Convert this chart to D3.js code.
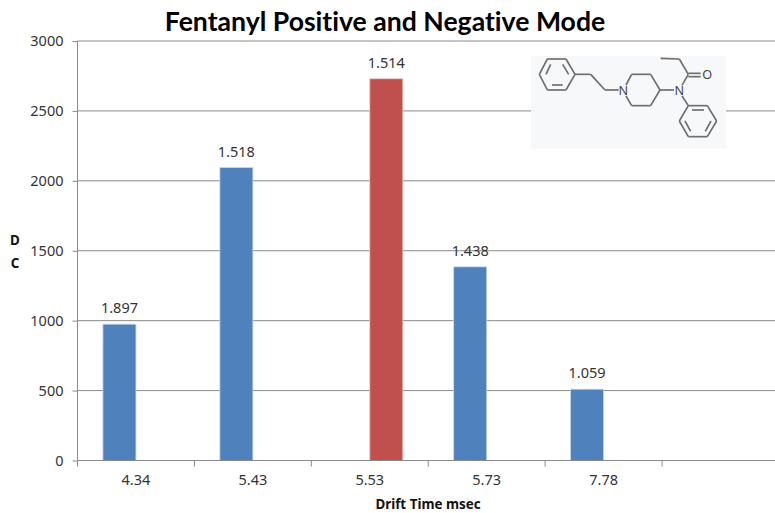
<!DOCTYPE html>
<html>
<head>
<meta charset="utf-8">
<script src="https://cdn.jsdelivr.net/npm/d3@7"></script>
<style>
  html, body { margin: 0; padding: 0; background: #fff; }
  text { font-family: "Noto Sans", sans-serif; fill: #333; }
  .title { font-family: Lato, sans-serif; font-weight: 700; font-size: 26.6px; fill: #000; font-variant-ligatures: none; }
  .axis-title { font-family: "Noto Sans", sans-serif; font-weight: 700; font-size: 13.4px; fill: #111; }
</style>
</head>
<body>
<div id="chart"></div>
<script>
const categories = ['4.34', '5.43', '5.53', '5.73', '7.78', ''];
const seriesNames = ['blue', 'red'];
const barCategories = ['4.34', '5.43', '5.53', '5.73', '7.78'];
const barSeries = ['blue', 'blue', 'red', 'blue', 'blue'];
const barValues = [975, 2095, 2730, 1385, 510];
const barLabels = ['1.897', '1.518', '1.514', '1.438', '1.059'];
const yTicks = [0, 500, 1000, 1500, 2000, 2500, 3000];

const width = 775, height = 513;
const margin = { left: 77.5, top: 41, right: -4, bottom: 52.5 };
const colors = { blue: '#4f81bd', red: '#c0504d' };

const svg = d3.select('#chart').append('svg')
    .attr('width', width)
    .attr('height', height)
    .style('display', 'block');

const x = d3.scaleBand().domain(categories).range([margin.left, width - margin.right]);
const inner = d3.scaleBand().domain(seriesNames).range([0, x.bandwidth()]).paddingOuter(0.77).paddingInner(0);
const y = d3.scaleLinear().domain([0, 3000]).range([height - margin.bottom, margin.top]);

// grid
svg.append('g')
    .selectAll('line').data(yTicks.filter(d => d > 0))
    .enter()
    .append('line')
    .attr('x1', margin.left)
    .attr('x2', width)
    .attr('y1', d => y(d))
    .attr('y2', d => y(d))
    .attr('stroke', '#8a8a8a')
    .attr('stroke-width', 1);

// bars
svg.append('g')
    .selectAll('rect').data(barValues)
    .enter()
    .append('rect')
    .attr('x', (d, i) => x(barCategories[i]) + inner(barSeries[i]))
    .attr('y', d => y(d))
    .attr('width', inner.bandwidth())
    .attr('height', d => y(0) - y(d))
    .attr('fill', (d, i) => colors[barSeries[i]])
    .attr('stroke', (d, i) => barSeries[i] === 'blue' ? '#c9d8ea' : '#ecc9c8')
    .attr('stroke-width', 0.8);

// data labels
svg.append('g')
    .selectAll('text').data(barValues)
    .enter()
    .append('text')
    .attr('x', (d, i) => x(barCategories[i]) + inner(barSeries[i]) + inner.bandwidth() / 2)
    .attr('y', d => y(d) - 11)
    .attr('text-anchor', 'middle')
    .style('font-size', '14.5px')
    .text((d, i) => barLabels[i]);

// axes
const yAxis = svg.append('g')
    .attr('transform', `translate(${margin.left},0)`)
    .call(d3.axisLeft(y).tickValues(yTicks).tickFormat(d3.format('d')).tickSize(5).tickPadding(9).tickSizeOuter(0));
const xAxis = svg.append('g')
    .attr('transform', `translate(0,${y(0)})`)
    .call(d3.axisBottom(x).tickSize(0).tickPadding(14));
xAxis.selectAll('.tick line').remove();
xAxis.append('g')
    .selectAll('line').data(categories)
    .enter()
    .append('line')
    .attr('x1', d => x(d))
    .attr('x2', d => x(d))
    .attr('y1', 0)
    .attr('y2', 6)
    .attr('stroke', '#8a8a8a');
[yAxis, xAxis].forEach(a => {
    a.selectAll('.domain').attr('stroke', '#8a8a8a');
    a.selectAll('.tick line').attr('stroke', '#8a8a8a');
    a.selectAll('text').style('font-family', '"Noto Sans", sans-serif').style('font-size', '14.5px').attr('fill', '#333');
});
yAxis.select('.domain').attr('d', `M0,${y(3000)}V${y(0)}`);
xAxis.select('.domain').attr('d', `M${margin.left},0H${width}`);

// titles
svg.append('text').attr('class', 'title').attr('x', 385).attr('y', 31).attr('text-anchor', 'middle')
    .text('Fentanyl Positive and Negative Mode');
svg.append('text').attr('class', 'axis-title').attr('x', 428).attr('y', 509).attr('text-anchor', 'middle')
    .text('Drift Time msec');
svg.append('text').attr('class', 'axis-title').attr('x', 15).attr('y', 245).attr('text-anchor', 'middle').text('D');
svg.append('text').attr('class', 'axis-title').attr('x', 15).attr('y', 268).attr('text-anchor', 'middle').text('C');

// fentanyl structure inset
const mol = svg.append('g').attr('transform', 'translate(520,40) scale(0.3333)');
mol.append('rect').attr('x', 33).attr('y', 48).attr('width', 585).attr('height', 278).attr('fill', '#f7f8fa');
const bonds = [
    [[58, 103], [82, 57]], [[82, 57], [138, 57]], [[138, 57], [165, 103]],
    [[165, 103], [138, 150]], [[138, 150], [82, 150]], [[82, 150], [58, 103]],
    [[78, 103], [92, 73]], [[96, 135], [128, 135]], [[128, 73], [146, 103]],
    [[165, 103], [212, 103]], [[212, 103], [255, 150]], [[255, 150], [296, 150]],
    [[318, 135], [335, 103]], [[335, 103], [392, 103]], [[392, 103], [420, 150]],
    [[420, 150], [392, 197]], [[392, 197], [335, 197]], [[335, 197], [318, 168]],
    [[420, 150], [462, 150]], [[486, 136], [505, 103]], [[505, 103], [478, 57]],
    [[478, 57], [422, 55]], [[505, 100], [542, 100]], [[505, 110], [542, 110]],
    [[486, 168], [505, 197]], [[505, 197], [478, 243]], [[478, 243], [505, 290]],
    [[505, 290], [562, 290]], [[562, 290], [590, 243]], [[590, 243], [562, 197]],
    [[562, 197], [505, 197]], [[516, 210], [552, 210]], [[495, 243], [512, 274]],
    [[573, 243], [556, 274]]
];
mol.append('g')
    .selectAll('line').data(bonds)
    .enter()
    .append('line')
    .attr('x1', d => d[0][0])
    .attr('y1', d => d[0][1])
    .attr('x2', d => d[1][0])
    .attr('y2', d => d[1][1])
    .attr('stroke', '#6e6e6e')
    .attr('stroke-width', 5);
const atoms = [['N', 310, 164], ['N', 478, 164], ['O', 562, 117]];
mol.append('g')
    .selectAll('text').data(atoms)
    .enter()
    .append('text')
    .attr('x', d => d[1])
    .attr('y', d => d[2])
    .attr('text-anchor', 'middle')
    .style('font-size', '38px')
    .style('fill', '#444')
    .text(d => d[0]);
</script>
</body>
</html>
